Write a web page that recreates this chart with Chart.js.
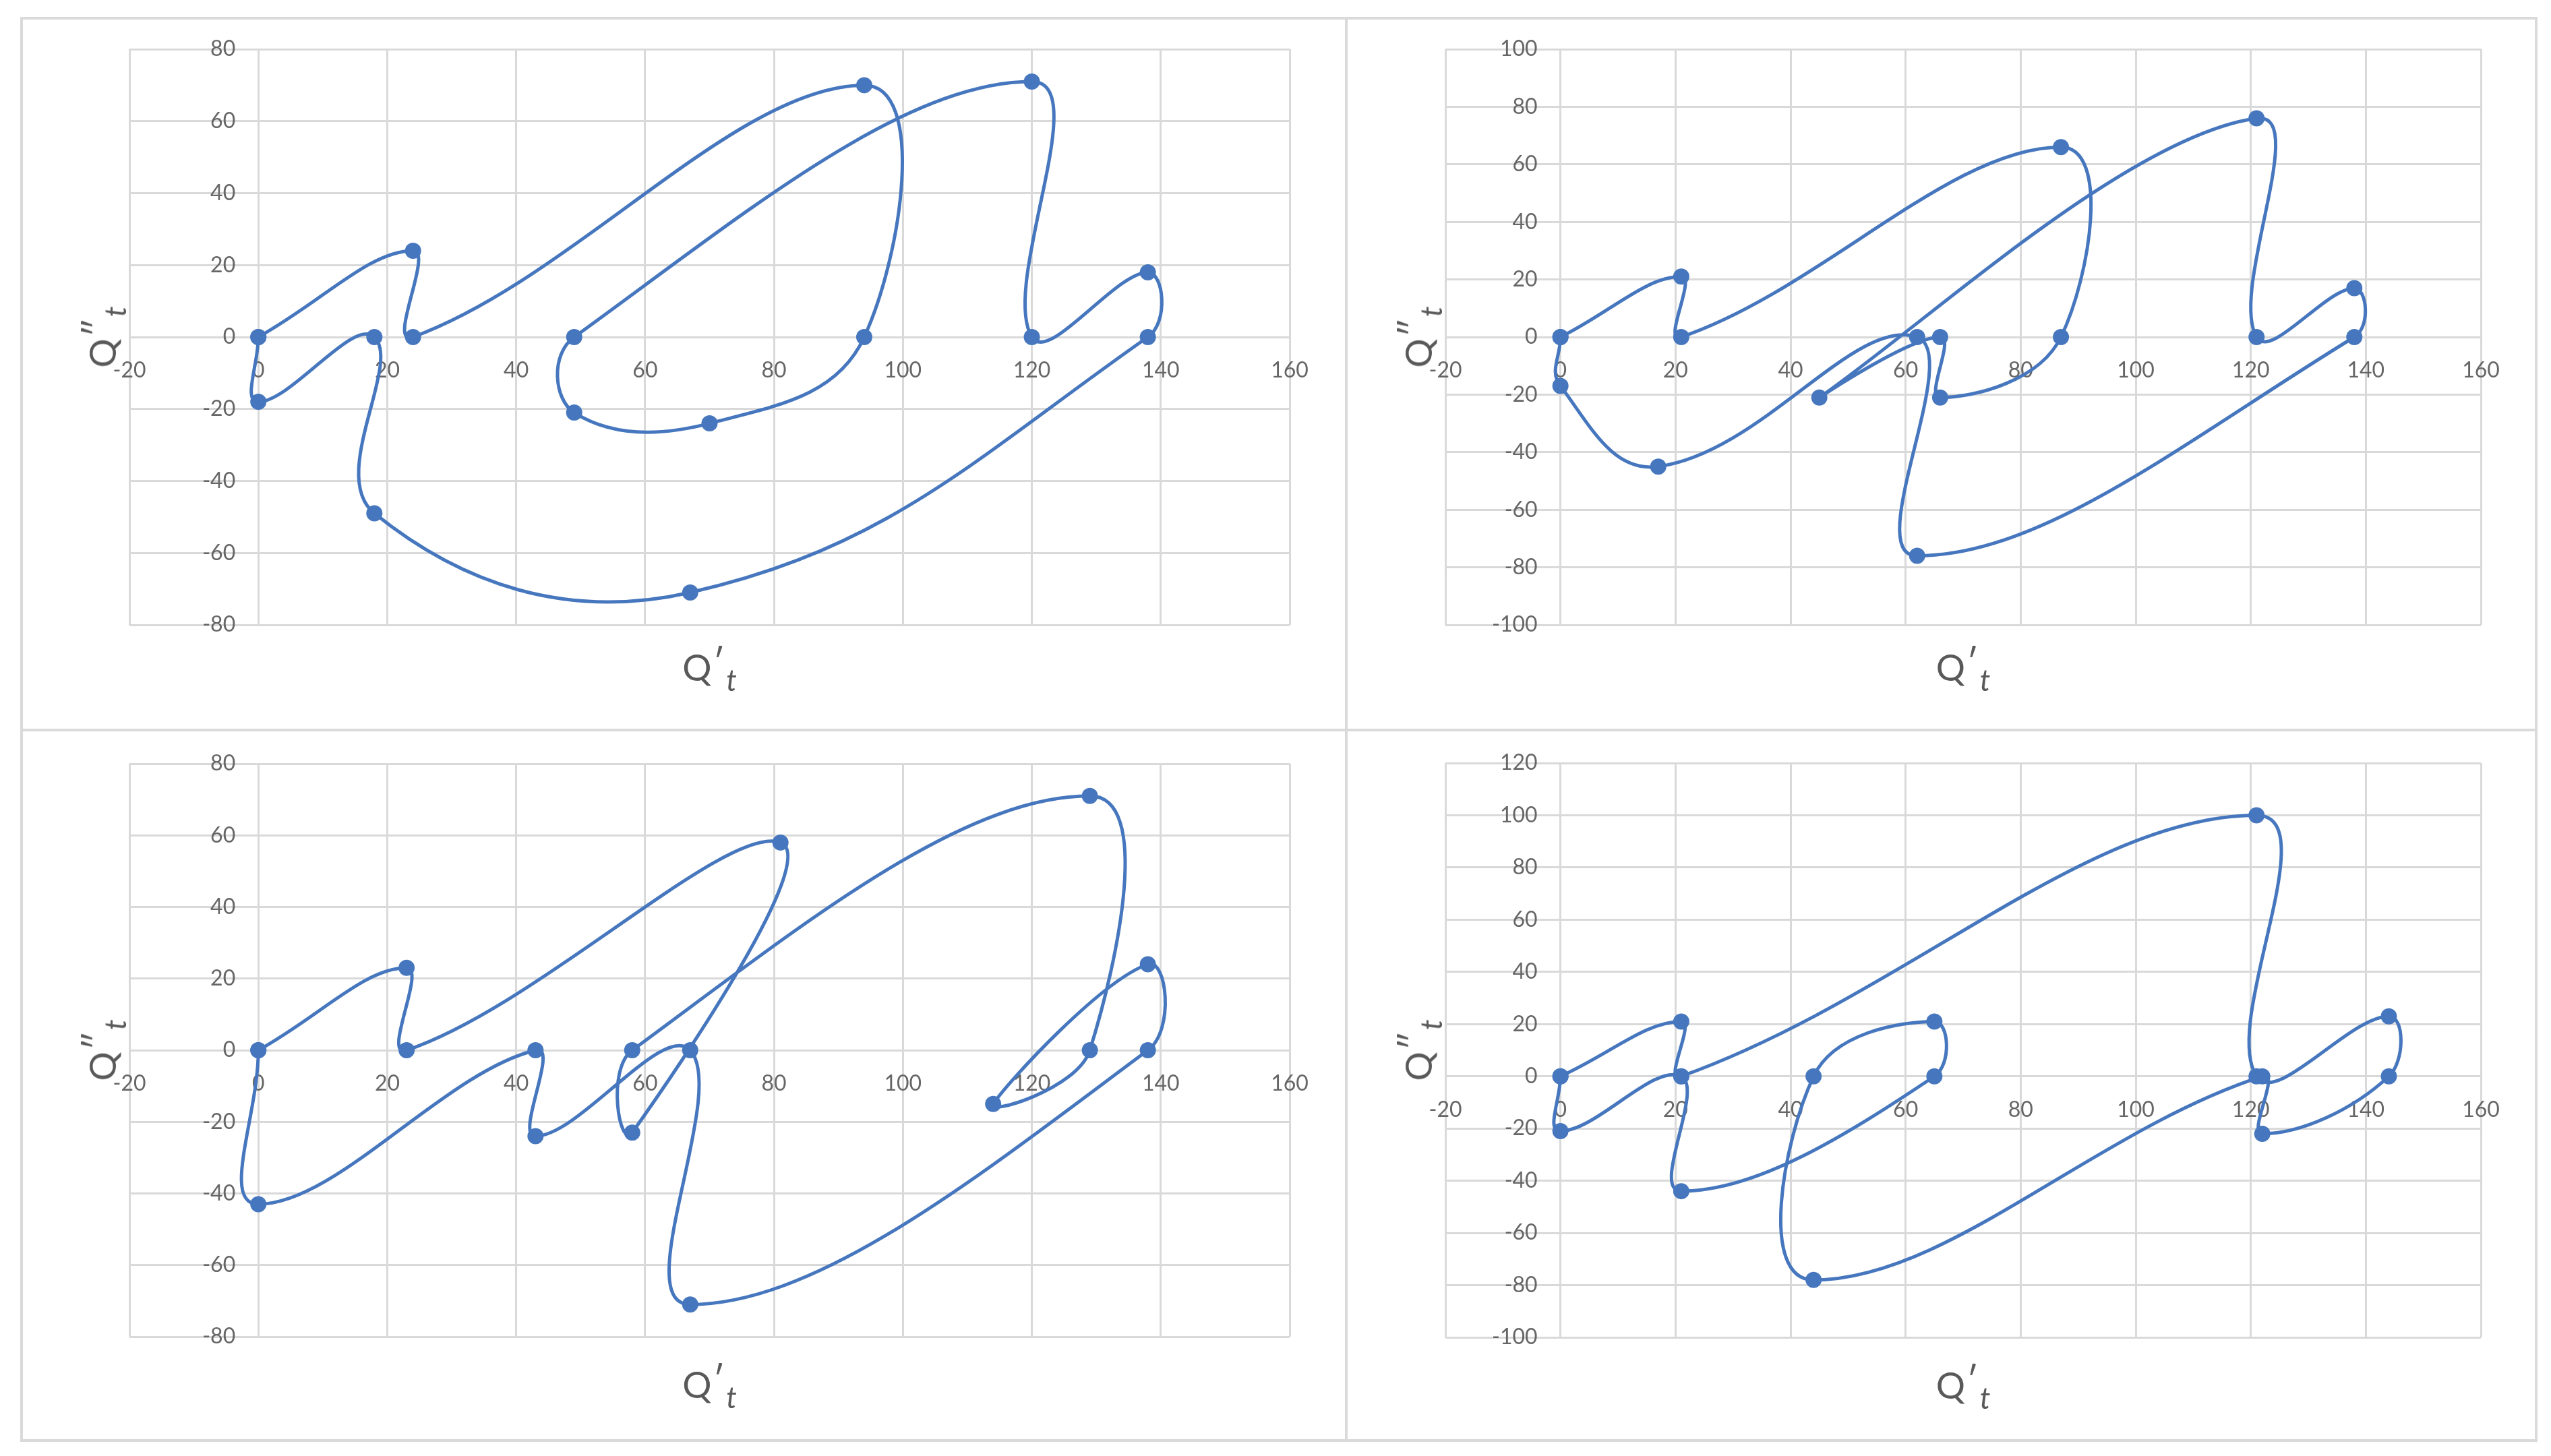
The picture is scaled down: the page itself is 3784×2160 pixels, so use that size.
<!DOCTYPE html>
<html>
<head>
<meta charset="utf-8">
<script src="https://cdn.jsdelivr.net/npm/chart.js@4.4.1/dist/chart.umd.min.js"></script>
<style>
  body { margin: 0; width: 3784px; height: 2160px; background: #fff; position: relative; overflow: hidden; font-family: Lato, 'Open Sans', sans-serif; }
  .frame { position: absolute; left: 30px; top: 25px; width: 3726px; height: 2106px; border: 4px solid #dadada; }
  .vdiv { position: absolute; left: 1995px; top: 25px; width: 4px; height: 2114px; background: #dadada; }
  .hdiv { position: absolute; left: 30px; top: 1081px; width: 3734px; height: 4px; background: #dadada; }
  canvas { position: absolute; }
  .ttl { position: absolute; color: #595959; font-size: 54px; line-height: 1; white-space: nowrap; }
  .ttl .pr { position: relative; top: -8px; margin-left: 2px; }
  .ttl .sb { position: relative; top: 15px; font-size: 44px; font-style: italic; margin-left: 2px; }
</style>
</head>
<body>
<div class="frame"></div>
<div class="vdiv"></div>
<div class="hdiv"></div>

<script>
// --- tick labels ---
const xTicks = [-20, 0, 20, 40, 60, 80, 100, 120, 140, 160];
const yTicks80 = [-80, -60, -40, -20, 0, 20, 40, 60, 80];
const yTicks100 = [-100, -80, -60, -40, -20, 0, 20, 40, 60, 80, 100];
const yTicks120 = [-100, -80, -60, -40, -20, 0, 20, 40, 60, 80, 100, 120];

// --- series (Q't, Q''t) in drawing order ---
const p1Qd  = [0, 24, 24, 94, 94, 70, 49, 49, 120, 120, 138, 138, 67, 18, 18, 0, 0];
const p1Qdd = [0, 24, 0, 70, 0, -24, -21, 0, 71, 0, 18, 0, -71, -49, 0, -18, 0];

const p2Qd  = [0, 21, 21, 87, 87, 66, 66, 45, 121, 121, 138, 138, 62, 62, 17, 0, 0];
const p2Qdd = [0, 21, 0, 66, 0, -21, 0, -21, 76, 0, 17, 0, -76, 0, -45, -17, 0];

const p3Qd  = [0, 23, 23, 81, 58, 58, 129, 129, 114, 138, 138, 67, 67, 43, 43, 0, 0];
const p3Qdd = [0, 23, 0, 58, -23, 0, 71, 0, -15, 24, 0, -71, 0, -24, 0, -43, 0];

const p4Qd  = [0, 21, 21, 121, 121, 144, 144, 122, 122, 44, 44, 65, 65, 21, 21, 0, 0];
const p4Qdd = [0, 21, 0, 100, 0, 23, 0, -22, 0, -78, 0, 21, 0, -44, 0, -21, 0];

const LINE_BLUE = '#4677be';
const GRID = '#d9d9d9';
const LABEL = '#666666';

// tick labels sit next to the axes crossing at zero, like the original
const zeroAxisLabels = {
    id: 'zeroAxisLabels',
    beforeDatasetsDraw(chart) {
        const { ctx, scales: { x, y } } = chart;
        const x0 = x.getPixelForValue(0);
        const y0 = y.getPixelForValue(0);
        ctx.save();
        ctx.fillStyle = LABEL;
        ctx.font = "32px Lato, 'Open Sans', sans-serif";
        ctx.textAlign = 'right';
        ctx.textBaseline = 'middle';
        y.ticks.forEach(t => ctx.fillText(String(t.value), x0 - 34, y.getPixelForValue(t.value)));
        ctx.textAlign = 'center';
        x.ticks.forEach(t => ctx.fillText(String(t.value), x.getPixelForValue(t.value), y0 + 50));
        ctx.restore();
    }
};

function addTitle(html, cx, cy, rotate) {
    const el = document.createElement('div');
    el.className = 'ttl';
    el.innerHTML = html;
    el.style.left = cx + 'px';
    el.style.top = cy + 'px';
    el.style.transform = 'translate(-50%, -50%)' + (rotate ? ' rotate(-90deg)' : '');
    document.body.appendChild(el);
}

function makePanel(qd, qdd, yTicks, box, xTitleGap) {
    const [left, top, right, bottom] = box;
    const pad = { left: 200, top: 60, right: 40, bottom: 90 };
    const canvas = document.createElement('canvas');
    const w = right - left + pad.left + pad.right;
    const h = bottom - top + pad.top + pad.bottom;
    canvas.width = w;
    canvas.height = h;
    canvas.style.left = (left - pad.left) + 'px';
    canvas.style.top = (top - pad.top) + 'px';
    canvas.style.width = w + 'px';
    canvas.style.height = h + 'px';
    document.body.appendChild(canvas);

    const points = qd.map((v, i) => ({ x: v, y: qdd[i] }));

    new Chart(canvas.getContext('2d'), {
        type: 'scatter',
        data: {
            datasets: [{
                data: points,
                showLine: true,
                borderColor: LINE_BLUE,
                backgroundColor: LINE_BLUE,
                borderWidth: 5,
                pointRadius: 12,
                pointBorderWidth: 0,
                tension: 0.42
            }]
        },
        options: {
            responsive: false,
            devicePixelRatio: 1,
            animation: false,
            events: [],
            layout: { padding: pad },
            plugins: { legend: { display: false }, tooltip: { enabled: false } },
            scales: {
                x: {
                    type: 'linear',
                    min: xTicks[0],
                    max: xTicks[xTicks.length - 1],
                    afterBuildTicks: s => { s.ticks = xTicks.map(v => ({ value: v })); },
                    ticks: { display: false },
                    grid: { color: GRID, lineWidth: 3, drawTicks: false },
                    border: { display: false }
                },
                y: {
                    type: 'linear',
                    min: yTicks[0],
                    max: yTicks[yTicks.length - 1],
                    afterBuildTicks: s => { s.ticks = yTicks.map(v => ({ value: v })); },
                    ticks: { display: false },
                    grid: { color: GRID, lineWidth: 3, drawTicks: false },
                    border: { display: false }
                }
            }
        },
        plugins: [zeroAxisLabels]
    });

    const xTitle = 'Q<span class="pr">′</span><span class="sb">t</span>';
    const yTitle = 'Q<span class="pr">″</span><span class="sb">t</span>';
    addTitle(xTitle, (left + right) / 2, bottom + xTitleGap, false);
    addTitle(yTitle, left - 40, (top + bottom) / 2, true);
}

makePanel(p1Qd, p1Qdd, yTicks80, [192, 73, 1913, 927], 63);
makePanel(p2Qd, p2Qdd, yTicks100, [2144, 73, 3680, 927], 63);
makePanel(p3Qd, p3Qdd, yTicks80, [192, 1133, 1913, 1983], 71);
makePanel(p4Qd, p4Qdd, yTicks120, [2144, 1132, 3680, 1984], 71);
</script>
</body>
</html>
